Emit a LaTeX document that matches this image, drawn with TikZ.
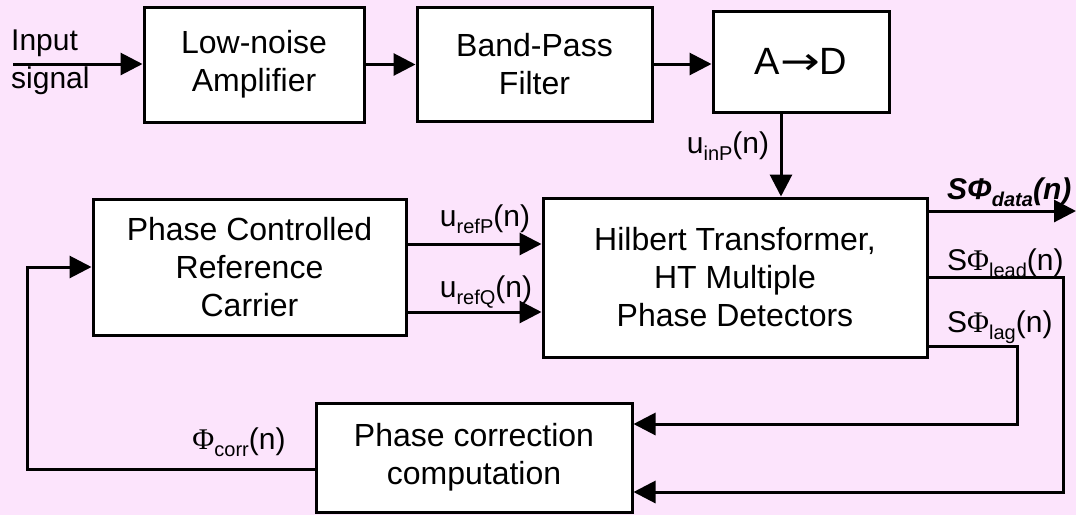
\documentclass[tikz,border=0pt]{standalone}
\usepackage{fontspec}
\setmainfont{Liberation Sans}
\newfontfamily\serifphi{Liberation Serif}
\newfontfamily\djv{DejaVu Sans}
\usetikzlibrary{arrows.meta,calc}
\definecolor{bgpink}{RGB}{252,228,252}
\newcommand\lsub[1]{\raisebox{-7pt}{\fontsize{20}{20}\selectfont #1}}
\newcommand\sphi{{\serifphi Φ}}
\begin{document}
\begin{tikzpicture}[x=1pt,y=-1pt,
  blk/.style={draw=black, fill=white, line width=3pt, align=center, font=\fontsize{32}{38}\selectfont, inner sep=0pt},
  lbl/.style={inner sep=0pt, font=\fontsize{30}{36}\selectfont},
  conn/.style={line width=3pt, -{Triangle[length=22pt,width=22pt]}},
]
\fill[bgpink] (0,0) rectangle (1076,515);
\useasboundingbox (0,0) rectangle (1076,515);

% blocks
\node[blk, minimum width=220pt, minimum height=115pt] (lna) at (254,64.5) {Low-noise\\Amplifier};
\node[blk, minimum width=235pt, minimum height=114pt] (bpf) at (534.5,64) {Band-Pass\\Filter};
\node[blk, minimum width=176pt, minimum height=101pt, font=\fontsize{38}{40}\selectfont] (ad) at (801,61.5) {A{\djv\scalebox{1.25}[1]{→}}D};
\node[blk, minimum width=384pt, minimum height=159pt] (ht) at (735,277.5) {Hilbert Transformer,\\HT Multiple\\Phase Detectors};
\node[blk, minimum width=313pt, minimum height=136pt] (pcrc) at (249.5,267) {Phase Controlled\\Reference\\Carrier};
\node[blk, minimum width=316pt, minimum height=109pt] (pcc) at (474,457.5) {Phase correction\\computation};

% input
\node[lbl, anchor=west, align=left, font=\fontsize{30}{38}\selectfont] (inlbl) at (11,62) {Input\\signal};
\coordinate (inp) at (13,64);
\draw[conn] (inp) -- (inp -| lna.west);
\draw[conn] (lna.east) -- (lna.east -| bpf.west);
\draw[conn] (bpf.east) -- (bpf.east -| ad.west);

% A/D to HT
\coordinate (xad) at (781,0);
\draw[conn] (ad.south -| xad) -- (ht.north -| xad);
\node[lbl] (uinp) at (728,146) {u\lsub{inP}(n)};

% reference to HT
\coordinate (yP) at (0,244);
\coordinate (yQ) at (0,312);
\draw[conn] (pcrc.east |- yP) -- (ht.west |- yP);
\draw[conn] (pcrc.east |- yQ) -- (ht.west |- yQ);
\node[lbl] (urefp) at (485,219) {u\lsub{refP}(n)};
\node[lbl] (urefq) at (486,292) {u\lsub{refQ}(n)};

% HT outputs
\coordinate (ydata) at (0,211);
\coordinate (outR) at (1076,211);
\draw[conn] (ht.east |- ydata) -- (outR);
\node[lbl, anchor=west, font=\fontsize{30}{36}\selectfont\bfseries\itshape] (sdata) at (947,192) {SΦ\lsub{data}(n)};

\coordinate (lead1) at (1063,277);
\coordinate (lead2) at (1063,492);
\draw[conn] (ht.east |- lead1) -- (lead1) -- (lead2) -- (pcc.east |- lead2);
\node[lbl, anchor=west] (slead) at (947,263) {S\sphi\lsub{lead}(n)};

\coordinate (lag1) at (1017,346);
\coordinate (lag2) at (1017,424);
\draw[conn] (ht.east |- lag1) -- (lag1) -- (lag2) -- (pcc.east |- lag2);
\node[lbl, anchor=west] (slag) at (947,327) {S\sphi\lsub{lag}(n)};

% feedback
\coordinate (fb1) at (27,469);
\coordinate (fb2) at (27,267);
\draw[conn] (pcc.west |- fb1) -- (fb1) -- (fb2) -- (pcrc.west |- fb2);
\node[lbl] (phicorr) at (239,442) {\sphi\lsub{corr}(n)};
\end{tikzpicture}
\end{document}
